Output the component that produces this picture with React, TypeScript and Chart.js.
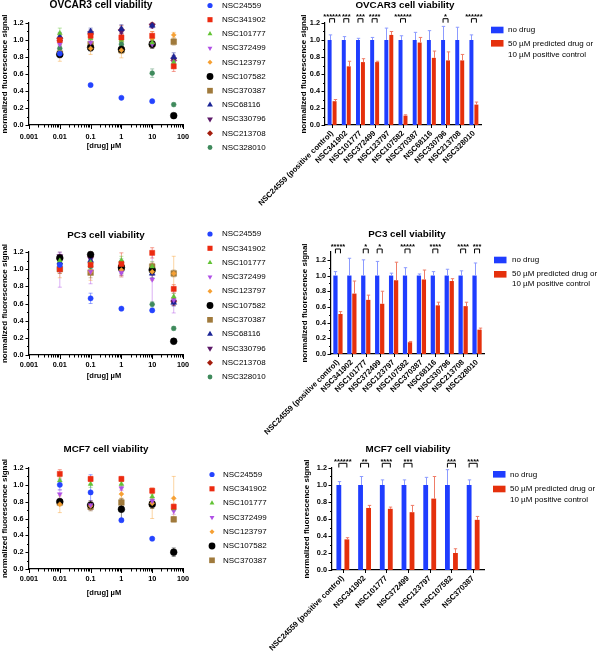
import React, { useEffect, useRef } from 'react';
import { Chart, registerables } from 'chart.js';

Chart.register(...registerables);

const FONT = '"Liberation Sans", Arial, Helvetica, sans-serif';

// ---------- shared axis data ----------
const doses = [0.01, 0.1, 1, 10, 50];
const xTickValues = [0.001, 0.01, 0.1, 1, 10, 100];
const xTickLabels = ['0.001', '0.01', '0.1', '1', '10', '100'];
const yTickValues = [0, 0.2, 0.4, 0.6, 0.8, 1.0, 1.2];
const yTickLabels = ['0.0', '0.2', '0.4', '0.6', '0.8', '1.0', '1.2'];
const yMinorTicks = [0.1, 0.3, 0.5, 0.7, 0.9, 1.1];

// ---------- compounds ----------
const compounds = ['NSC24559', 'NSC341902', 'NSC101777', 'NSC372499', 'NSC123797', 'NSC107582', 'NSC370387', 'NSC68116', 'NSC330796', 'NSC213708', 'NSC328010'];
const compoundColors = ['#2443ff', '#ec2a10', '#62c334', '#b04fe6', '#f6a033', '#000000', '#a07a3c', '#1b2596', '#5c1868', '#a41d0d', '#3f8a5c'];
const compoundShapes = ['circle', 'rect', 'triangle', 'triangle', 'rectRot', 'circle', 'rect', 'triangle', 'triangle', 'rectRot', 'circle'];
const compoundRotations = [0, 0, 0, 180, 0, 0, 0, 0, 180, 0, 0];
const compoundRadii = [2.6, 3.6, 2.8, 2.8, 2.5, 3.4, 4, 3.4, 3.4, 3, 2.4];

// ---------- scatter data (rows: compounds, cols: doses) ----------
const ovcar3Means = [
  [0.84, 0.47, 0.32, 0.28, null],
  [1.0, 1.05, 1.03, 1.05, 0.69],
  [1.08, 1.02, 1.0, 0.97, 0.74],
  [0.95, 0.97, 1.02, 0.95, 0.74],
  [0.85, 0.9, 0.88, 1.02, 1.06],
  [0.83, 0.91, 0.89, 0.95, 0.11],
  [0.84, 0.95, 0.88, 0.95, 0.98],
  [1.04, 1.1, 1.13, 1.17, 0.8],
  [0.98, 1.08, 1.1, 1.17, 0.77],
  [1.02, 1.07, 1.12, 1.18, 0.76],
  [0.9, 0.93, 0.95, 0.61, 0.24],
];
const ovcar3Errs = [
  [0.04, 0.02, 0.01, 0.01, null],
  [0.05, 0.04, 0.05, 0.05, 0.06],
  [0.06, 0.05, 0.05, 0.04, 0.04],
  [0.05, 0.04, 0.05, 0.04, 0.03],
  [0.1, 0.07, 0.09, 0.08, 0.03],
  [0.03, 0.04, 0.04, 0.05, 0.01],
  [0.05, 0.05, 0.04, 0.04, 0.04],
  [0.05, 0.04, 0.05, 0.02, 0.05],
  [0.05, 0.04, 0.05, 0.03, 0.05],
  [0.05, 0.04, 0.05, 0.02, 0.05],
  [0.04, 0.04, 0.04, 0.05, 0.02],
];
const pc3Means = [
  [1.05, 0.66, 0.54, 0.52, null],
  [1.0, 1.05, 1.06, 1.19, 0.77],
  [1.1, 1.08, 1.1, 1.03, 0.68],
  [0.99, 0.97, 0.96, 0.88, 0.64],
  [1.0, 0.97, 0.99, 0.97, 0.95],
  [1.13, 1.17, 1.02, 0.99, 0.16],
  [1.0, 0.96, 1.02, 1.03, 0.95],
  [1.08, 1.1, 1.0, 0.95, 0.61],
  [1.15, 1.12, 0.98, 0.98, 0.62],
  [1.12, 1.15, 1.04, 1.0, 0.62],
  [1.06, 1.03, 1.08, 0.59, 0.31],
];
const pc3Errs = [
  [0.05, 0.06, 0.01, 0.02, null],
  [0.05, 0.08, 0.13, 0.06, 0.05],
  [0.05, 0.05, 0.05, 0.06, 0.04],
  [0.2, 0.14, 0.05, 0.3, 0.15],
  [0.1, 0.1, 0.08, 0.1, 0.2],
  [0.03, 0.03, 0.05, 0.04, 0.01],
  [0.05, 0.06, 0.04, 0.04, 0.04],
  [0.04, 0.05, 0.05, 0.05, 0.04],
  [0.05, 0.05, 0.05, 0.05, 0.04],
  [0.05, 0.05, 0.05, 0.05, 0.04],
  [0.04, 0.04, 0.04, 0.03, 0.02],
];
const mcf7Means = [
  [1.0, 0.91, 0.58, 0.36, null],
  [1.13, 1.07, 1.07, 0.93, 0.74],
  [1.05, 1.01, 1.01, 0.86, 0.72],
  [0.89, 0.76, 0.96, 0.81, 0.69],
  [0.77, 0.75, 0.89, 0.78, 0.84],
  [0.8, 0.76, 0.71, 0.77, 0.2],
  [0.79, 0.74, 0.79, 0.77, 0.59],
];
const mcf7Errs = [
  [0.06, 0.21, 0.02, 0.01, null],
  [0.05, 0.03, 0.03, 0.03, 0.03],
  [0.05, 0.04, 0.03, 0.03, 0.03],
  [0.05, 0.05, 0.03, 0.03, 0.04],
  [0.1, 0.05, 0.05, 0.18, 0.26],
  [0.03, 0.05, 0.12, 0.05, 0.05],
  [0.04, 0.05, 0.05, 0.05, 0.03],
];

// ---------- bar data ----------
const barLabels11 = ['NSC24559 (positive control)', 'NSC341902', 'NSC101777', 'NSC372499', 'NSC123797', 'NSC107582', 'NSC370387', 'NSC68116', 'NSC330796', 'NSC213708', 'NSC328010'];
const barLabels7 = ['NSC24559 (positive control)', 'NSC341902', 'NSC101777', 'NSC372499', 'NSC123797', 'NSC107582', 'NSC370387'];
const barSeriesNames = ['no drug', '50 \u00b5M predicted drug or', '10 \u00b5M positive control'];

const ovcar3NoDrug = [1, 1, 1, 1, 1, 1, 1, 1, 1, 1, 1];
const ovcar3NoDrugErr = [0.06, 0.04, 0.02, 0.03, 0.14, 0.05, 0.09, 0.11, 0.16, 0.15, 0.06];
const ovcar3Drug = [0.28, 0.69, 0.74, 0.74, 1.06, 0.11, 0.97, 0.79, 0.76, 0.76, 0.24];
const ovcar3DrugErr = [0.02, 0.06, 0.04, 0.01, 0.04, 0.01, 0.06, 0.08, 0.1, 0.07, 0.03];
const ovcar3Stars = ['******', '***', '***', '****', '', '******', '', '', '*', '', '******'];

const pc3NoDrug = [1, 1, 1, 1, 1, 1, 1, 1, 1, 1, 1];
const pc3NoDrugErr = [0.05, 0.22, 0.2, 0.18, 0.03, 0.1, 0.02, 0.05, 0.08, 0.06, 0.16];
const pc3Drug = [0.51, 0.77, 0.69, 0.64, 0.94, 0.15, 0.95, 0.62, 0.93, 0.61, 0.31];
const pc3DrugErr = [0.03, 0.16, 0.06, 0.16, 0.23, 0.01, 0.12, 0.04, 0.03, 0.05, 0.02];
const pc3Stars = ['*****', '', '*', '*', '', '*****', '', '****', '', '****', '***'];

const mcf7NoDrug = [1, 1, 1, 1, 1, 1, 1];
const mcf7NoDrugErr = [0.04, 0.1, 0.06, 0.06, 0.09, 0.18, 0.06];
const mcf7Drug = [0.36, 0.73, 0.72, 0.68, 0.84, 0.2, 0.59];
const mcf7DrugErr = [0.02, 0.03, 0.02, 0.08, 0.26, 0.05, 0.04];
const mcf7Stars = ['******', '**', '****', '***', '', '***', '****'];

const BLUE = '#1f3dff';
const RED = '#e5300c';
const BLUE_ERR = '#8c9bff';
const RED_ERR = '#ef7d68';

const Y_TITLE = 'normalized fluorescence signal';
const X_TITLE = '[drug] \u00b5M';

// ---------- layout specs ----------
const scatterPanels = [
  { ox: 0, oy: 0, w: 300, h: 210, area: { l: 29, r: 183, t: 23, b: 125 }, title: 'OVCAR3 cell viability', titleX: 101, titleY: 5, titleSize: 10.2, xTitleX: 104, xTitleY: 146, xTickPad: 7.5, yTitleX: 5, legMarkX: 210, legTextX: 222, legY0: 5.5, legDy: 14.2, means: ovcar3Means, errs: ovcar3Errs },
  { ox: 0, oy: 205, w: 300, h: 215, area: { l: 29, r: 183, t: 252, b: 355 }, title: 'PC3 cell viability', titleX: 106, titleY: 235, titleSize: 9.8, xTitleX: 104, xTitleY: 376, xTickPad: 5.5, yTitleX: 5, legMarkX: 210, legTextX: 222, legY0: 234, legDy: 14.3, means: pc3Means, errs: pc3Errs },
  { ox: 0, oy: 425, w: 300, h: 228, area: { l: 29, r: 183, t: 468, b: 569 }, title: 'MCF7 cell viability', titleX: 106, titleY: 449, titleSize: 9.8, xTitleX: 104, xTitleY: 593, xTickPad: 5.5, yTitleX: 5, legMarkX: 212, legTextX: 223, legY0: 474.5, legDy: 14.3, means: mcf7Means, errs: mcf7Errs },
];

const barPanels = [
  { ox: 230, oy: 0, w: 370, h: 245, area: { l: 325, r: 481, t: 23, b: 125 }, yMax: 1.2, title: 'OVCAR3 cell viability', titleX: 405, titleY: 5, yTitleX: 304, labels: barLabels11, noDrug: ovcar3NoDrug, noDrugErr: ovcar3NoDrugErr, drug: ovcar3Drug, drugErr: ovcar3DrugErr, stars: ovcar3Stars, starY: 15, brTop: 18.7, brBot: 22.7, boxX: 491, box1Y: 26.7, box2Y: 40, textX: 508, text1Y: 30, line1Y: 43.7, line2Y: 55, catPct: 0.7, barPct: 0.8 },
  { ox: 230, oy: 205, w: 370, h: 265, area: { l: 331, r: 484, t: 252, b: 354 }, yMax: 1.3, title: 'PC3 cell viability', titleX: 407, titleY: 234, yTitleX: 305, labels: barLabels11, noDrug: pc3NoDrug, noDrugErr: pc3NoDrugErr, drug: pc3Drug, drugErr: pc3DrugErr, stars: pc3Stars, starY: 245, brTop: 249, brBot: 253.3, boxX: 494, box1Y: 256.7, box2Y: 271, textX: 512, text1Y: 260, line1Y: 274, line2Y: 284, catPct: 0.72, barPct: 0.85 },
  { ox: 230, oy: 425, w: 370, h: 228, area: { l: 332, r: 484, t: 468, b: 570 }, yMax: 1.2, title: 'MCF7 cell viability', titleX: 408, titleY: 449, yTitleX: 307, labels: barLabels7, noDrug: mcf7NoDrug, noDrugErr: mcf7NoDrugErr, drug: mcf7Drug, drugErr: mcf7DrugErr, stars: mcf7Stars, starY: 460, brTop: 463.3, brBot: 467.5, boxX: 493, box1Y: 471, box2Y: 485.7, textX: 510, text1Y: 474.3, line1Y: 488.3, line2Y: 499.3, catPct: 0.74, barPct: 0.6 },
];

// ---------- helpers ----------
function padFor(p: any) {
  return {
    left: 0,
    top: p.area.t - p.oy,
    right: p.ox + p.w - p.area.r,
    bottom: 0,
  };
}

function fixH(hgt: number) {
  return (sc: any) => {
    sc.height = hgt;
    sc.paddingLeft = 0;
    sc.paddingRight = 0;
    sc.paddingTop = 0;
    sc.paddingBottom = 0;
  };
}
function fixW(wid: number) {
  return (sc: any) => {
    sc.width = wid;
    sc.paddingLeft = 0;
    sc.paddingRight = 0;
    sc.paddingTop = 0;
    sc.paddingBottom = 0;
  };
}

function drawMarker(ctx: CanvasRenderingContext2D, shape: string, rot: number, r: number, x: number, y: number, color: string) {
  ctx.save();
  ctx.translate(x, y);
  ctx.rotate((rot * Math.PI) / 180);
  ctx.fillStyle = color;
  ctx.beginPath();
  if (shape === 'circle') {
    ctx.arc(0, 0, r, 0, Math.PI * 2);
  } else if (shape === 'rect') {
    const s = r * Math.SQRT1_2;
    ctx.rect(-s, -s, 2 * s, 2 * s);
  } else if (shape === 'rectRot') {
    ctx.moveTo(0, -r);
    ctx.lineTo(r, 0);
    ctx.lineTo(0, r);
    ctx.lineTo(-r, 0);
    ctx.closePath();
  } else {
    for (let k = 0; k < 3; k++) {
      const a = -Math.PI / 2 + (k * 2 * Math.PI) / 3;
      const px = Math.cos(a) * r;
      const py = Math.sin(a) * r;
      if (k === 0) ctx.moveTo(px, py);
      else ctx.lineTo(px, py);
    }
    ctx.closePath();
  }
  ctx.fill();
  ctx.restore();
}

function line(ctx: CanvasRenderingContext2D, x1: number, y1: number, x2: number, y2: number) {
  ctx.beginPath();
  ctx.moveTo(x1, y1);
  ctx.lineTo(x2, y2);
  ctx.stroke();
}

function drawText(ctx: CanvasRenderingContext2D, text: string, x: number, y: number, font: string, align: CanvasTextAlign = 'center', rot = 0) {
  ctx.save();
  ctx.font = font;
  ctx.fillStyle = '#000';
  ctx.textAlign = align;
  ctx.textBaseline = 'middle';
  ctx.translate(x, y);
  if (rot) ctx.rotate(rot);
  ctx.fillText(text, 0, 0);
  ctx.restore();
}

function drawYTicks(ctx: CanvasRenderingContext2D, yScale: any, left: number) {
  ctx.save();
  ctx.strokeStyle = '#000';
  ctx.lineWidth = 1;
  yTickValues.forEach((v) => {
    const y = Math.round(yScale.getPixelForValue(v)) + 0.5;
    line(ctx, left - 3.5, y, left, y);
  });
  yMinorTicks.forEach((v) => {
    const y = Math.round(yScale.getPixelForValue(v)) + 0.5;
    line(ctx, left - 2, y, left, y);
  });
  ctx.restore();
}

const tickFont = { family: FONT, size: 7.3, weight: 'bold' as const };
const barLabelFont = { family: FONT, size: 7.7, weight: 'bold' as const };
const axisBorder = { display: true, color: '#000', width: 1.2 };

function yScaleOptions(max: number, pad: number, wid: number) {
  return {
    type: 'linear',
    min: 0,
    max,
    grid: { display: false, drawTicks: false },
    border: axisBorder,
    afterBuildTicks: (sc: any) => {
      sc.ticks = yTickValues.map((v) => ({ value: v }));
    },
    ticks: { padding: pad, color: '#000', font: tickFont, callback: (_v: any, i: number) => yTickLabels[i] },
    afterFit: fixW(wid),
  };
}

// ---------- scatter config ----------
function scatterConfig(p: any): any {
  const ox = p.ox;
  const oy = p.oy;
  const datasets = p.means.map((row: (number | null)[], i: number) => ({
    label: compounds[i],
    data: doses.map((d, j) => ({ x: d, y: row[j] })).filter((pt) => pt.y !== null),
    pointStyle: compoundShapes[i],
    pointRotation: compoundRotations[i],
    pointRadius: compoundRadii[i],
    pointHoverRadius: compoundRadii[i],
    pointBackgroundColor: compoundColors[i],
    pointBorderColor: compoundColors[i],
    pointBorderWidth: 0.5,
    showLine: false,
    clip: false,
  }));

  const decor = {
    id: 'decorScatter',
    beforeDatasetsDraw(chart: any) {
      const { ctx } = chart;
      const xs = chart.scales.x;
      const ys = chart.scales.y;
      ctx.save();
      ctx.lineWidth = 1;
      ctx.globalAlpha = 0.45;
      p.means.forEach((row: (number | null)[], i: number) => {
        ctx.strokeStyle = compoundColors[i];
        row.forEach((m, j) => {
          const e = p.errs[i][j];
          if (m === null || e === null) return;
          const x = xs.getPixelForValue(doses[j]);
          const y1 = ys.getPixelForValue(m - e);
          const y2 = ys.getPixelForValue(m + e);
          line(ctx, x, y1, x, y2);
          line(ctx, x - 2, y1, x + 2, y1);
          line(ctx, x - 2, y2, x + 2, y2);
        });
      });
      ctx.restore();
    },
    afterDraw(chart: any) {
      const { ctx } = chart;
      const xs = chart.scales.x;
      const ys = chart.scales.y;
      const area = chart.chartArea;
      drawText(ctx, p.title, p.titleX - ox, p.titleY - oy, `bold ${p.titleSize}px ${FONT}`);
      drawText(ctx, Y_TITLE, p.yTitleX - ox, (area.top + area.bottom) / 2, `bold 8px ${FONT}`, 'center', -Math.PI / 2);
      drawText(ctx, X_TITLE, p.xTitleX - ox, p.xTitleY - oy, `bold 7.5px ${FONT}`);
      ctx.save();
      ctx.strokeStyle = '#000';
      ctx.lineWidth = 1;
      const b = area.bottom;
      xTickValues.forEach((v, k) => {
        const x = Math.round(xs.getPixelForValue(v)) + 0.5;
        line(ctx, x, b, x, b + 4);
        if (k < xTickValues.length - 1) {
          for (let m = 2; m <= 9; m++) {
            const xm = Math.round(xs.getPixelForValue(v * m)) + 0.5;
            line(ctx, xm, b, xm, b + 2.5);
          }
        }
      });
      ctx.restore();
      drawYTicks(ctx, ys, area.left);
      p.means.forEach((_r: any, i: number) => {
        const y = p.legY0 - oy + i * p.legDy;
        drawMarker(ctx, compoundShapes[i], compoundRotations[i], compoundRadii[i], p.legMarkX - ox, y, compoundColors[i]);
        drawText(ctx, compounds[i], p.legTextX - ox, y, `8px ${FONT}`, 'left');
      });
    },
  };

  return {
    type: 'scatter',
    data: { datasets },
    options: {
      responsive: false,
      animation: false,
      devicePixelRatio: 1,
      events: [],
      layout: { padding: padFor(p) },
      plugins: { legend: { display: false }, title: { display: false }, tooltip: { enabled: false } },
      scales: {
        x: {
          type: 'logarithmic',
          min: 0.001,
          max: 100,
          grid: { display: false, drawTicks: false },
          border: axisBorder,
          afterBuildTicks: (sc: any) => {
            sc.ticks = xTickValues.map((v) => ({ value: v }));
          },
          ticks: { autoSkip: false, maxRotation: 0, minRotation: 0, padding: p.xTickPad, color: '#000', font: tickFont, callback: (_v: any, i: number) => xTickLabels[i] },
          afterFit: fixH(p.oy + p.h - p.area.b),
        },
        y: yScaleOptions(1.2, 5.5, p.area.l - p.ox),
      },
    },
    plugins: [decor],
  };
}

// ---------- bar config ----------
function barConfig(p: any): any {
  const ox = p.ox;
  const oy = p.oy;
  const decor = {
    id: 'decorBar',
    afterDatasetsDraw(chart: any) {
      const { ctx } = chart;
      const ys = chart.scales.y;
      const metas = [chart.getDatasetMeta(0), chart.getDatasetMeta(1)];
      const vals = [p.noDrug, p.drug];
      const errs = [p.noDrugErr, p.drugErr];
      const cols = [BLUE_ERR, RED_ERR];
      ctx.save();
      ctx.lineWidth = 1;
      metas.forEach((meta: any, d: number) => {
        ctx.strokeStyle = cols[d];
        meta.data.forEach((bar: any, i: number) => {
          const x = Math.round(bar.x) + 0.5;
          const y1 = ys.getPixelForValue(vals[d][i]);
          const y2 = ys.getPixelForValue(vals[d][i] + errs[d][i]);
          line(ctx, x, y1, x, y2);
          line(ctx, x - 1.7, y2, x + 1.7, y2);
        });
      });
      ctx.restore();
    },
    afterDraw(chart: any) {
      const { ctx } = chart;
      const xs = chart.scales.x;
      const ys = chart.scales.y;
      const area = chart.chartArea;
      drawText(ctx, p.title, p.titleX - ox, p.titleY - oy, `bold 9.8px ${FONT}`);
      drawText(ctx, Y_TITLE, p.yTitleX - ox, (area.top + area.bottom) / 2, `bold 8px ${FONT}`, 'center', -Math.PI / 2);
      drawYTicks(ctx, ys, area.left);
      ctx.save();
      ctx.strokeStyle = '#000';
      ctx.lineWidth = 1;
      p.labels.forEach((_l: string, i: number) => {
        const x = Math.round(xs.getPixelForValue(i)) + 0.5;
        line(ctx, x, area.bottom, x, area.bottom + 3);
      });
      const m0 = chart.getDatasetMeta(0);
      const m1 = chart.getDatasetMeta(1);
      p.stars.forEach((s: string, i: number) => {
        if (!s) return;
        const x1 = m0.data[i].x;
        const x2 = m1.data[i].x;
        const top = p.brTop - oy;
        const bot = p.brBot - oy;
        ctx.beginPath();
        ctx.moveTo(x1, bot);
        ctx.lineTo(x1, top);
        ctx.lineTo(x2, top);
        ctx.lineTo(x2, bot);
        ctx.stroke();
        ctx.save();
        ctx.font = `bold 7.5px ${FONT}`;
        ctx.fillStyle = '#000';
        ctx.textAlign = 'center';
        ctx.textBaseline = 'alphabetic';
        ctx.fillText(s, (x1 + x2) / 2, p.starY - oy + 4.3);
        ctx.restore();
      });
      ctx.restore();
      ctx.save();
      ctx.fillStyle = BLUE;
      ctx.fillRect(p.boxX - ox, p.box1Y - oy, 12.5, 6.6);
      ctx.fillStyle = RED;
      ctx.fillRect(p.boxX - ox, p.box2Y - oy, 12.5, 6.6);
      ctx.restore();
      drawText(ctx, barSeriesNames[0], p.textX - ox, p.text1Y - oy, `8px ${FONT}`, 'left');
      drawText(ctx, barSeriesNames[1], p.textX - ox, p.line1Y - oy, `8px ${FONT}`, 'left');
      drawText(ctx, barSeriesNames[2], p.textX - ox, p.line2Y - oy, `8px ${FONT}`, 'left');
    },
  };

  return {
    type: 'bar',
    data: {
      labels: p.labels,
      datasets: [
        { label: barSeriesNames[0], data: p.noDrug, backgroundColor: BLUE, categoryPercentage: p.catPct, barPercentage: p.barPct },
        { label: barSeriesNames[1] + ' ' + barSeriesNames[2], data: p.drug, backgroundColor: RED, categoryPercentage: p.catPct, barPercentage: p.barPct },
      ],
    },
    options: {
      responsive: false,
      animation: false,
      devicePixelRatio: 1,
      events: [],
      layout: { padding: padFor(p) },
      plugins: { legend: { display: false }, title: { display: false }, tooltip: { enabled: false } },
      scales: {
        x: {
          grid: { display: false, drawTicks: false },
          border: axisBorder,
          ticks: { autoSkip: false, minRotation: 45, maxRotation: 45, padding: 4, color: '#000', font: barLabelFont },
          afterFit: fixH(p.oy + p.h - p.area.b),
        },
        y: yScaleOptions(p.yMax, 5, p.area.l - p.ox),
      },
    },
    plugins: [decor],
  };
}

function ChartCanvas({ spec, make }: { spec: any; make: (p: any) => any }) {
  const ref = useRef<HTMLCanvasElement>(null);
  useEffect(() => {
    const chart = new Chart(ref.current as HTMLCanvasElement, make(spec));
    return () => chart.destroy();
  }, []);
  return (
    <canvas
      ref={ref}
      width={spec.w}
      height={spec.h}
      style={{ position: 'absolute', left: spec.ox, top: spec.oy, width: spec.w, height: spec.h }}
    />
  );
}

export default function App() {
  return (
    <div style={{ position: 'absolute', left: 0, top: 0, width: 600, height: 653, background: '#fff', overflow: 'hidden' }}>
      {scatterPanels.map((p, i) => (
        <ChartCanvas key={'s' + i} spec={p} make={scatterConfig} />
      ))}
      {barPanels.map((p, i) => (
        <ChartCanvas key={'b' + i} spec={p} make={barConfig} />
      ))}
    </div>
  );
}
